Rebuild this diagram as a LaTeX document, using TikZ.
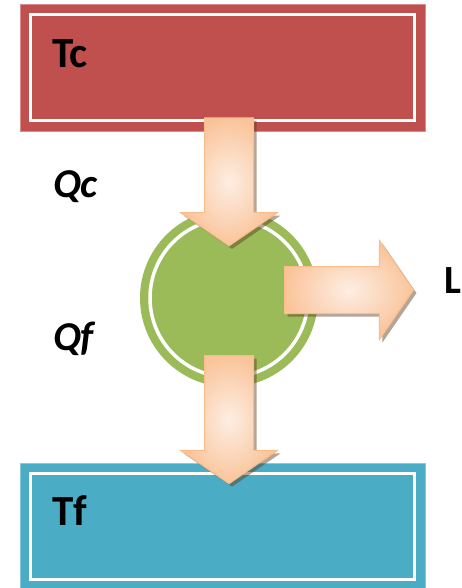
\documentclass[tikz,border=0pt]{standalone}
\usepackage{fontspec}
\setmainfont{Carlito}
\usetikzlibrary{shapes.arrows,shadows}
\definecolor{hotred}{HTML}{C0504D}
\definecolor{coldblue}{HTML}{4BACC6}
\definecolor{enginegreen}{HTML}{9BBB59}
\definecolor{peachlight}{HTML}{FDEEE3}
\definecolor{peachdark}{HTML}{FAC49A}
\definecolor{peachline}{HTML}{F9BD8C}
\begin{document}
\begin{tikzpicture}[x=1pt, y=-1pt,
		reservoir/.style={rectangle, fill=#1, draw=#1!65!white, line width=0.8pt, minimum width=405pt, minimum height=127pt, inner sep=0},
		frame/.style={draw=white, line width=3.5pt},
		flow/.style={single arrow, draw=peachline, line width=1pt, inner color=peachlight, outer color=peachdark,
			inner xsep=0, inner ysep=24pt, single arrow head extend=24pt, single arrow tip angle=111, minimum height=128pt,
			drop shadow={shadow xshift=3pt, shadow yshift=-3pt, opacity=0.45, fill=black!55!brown}},
		temp/.style={font=\bfseries\fontsize{43}{45}\selectfont, inner sep=0, anchor=base west},
		heat/.style={font=\bfseries\itshape\fontsize{41}{43}\selectfont, inner sep=0, anchor=base west}
	]
	\useasboundingbox (0,0) rectangle (462,588);
	% Sorgenti
	\node[reservoir=hotred] (hot) at (222.5,67.5) {};
	\draw[frame] ([shift={(11,11)}]hot.north west) rectangle ([shift={(-11,-11)}]hot.south east);
	\node[reservoir=coldblue] (cold) at (222.5,526.5) {};
	\draw[frame] ([shift={(11,11)}]cold.north west) rectangle ([shift={(-11,-11)}]cold.south east);

	% Macchina
	\node[circle, fill=enginegreen, minimum size=178pt, inner sep=0] (engine) at (229,298) {};
	\draw[frame] (engine.center) circle (79pt);

	% Frecce
	\node[flow, rotate=-90, anchor=tail] (qcflow) at ([yshift=14pt]hot.south -| engine) {};
	\node[flow, rotate=-90, anchor=tail] (qfflow) at ([yshift=32pt]engine.south) {};
	\node[flow, inner ysep=23pt, single arrow head extend=26pt, minimum height=129pt, anchor=tail] (work) at ([shift={(55pt,8pt)}]engine.center) {};

	% Testi
	\node[temp] (tc) at (52,68) {Tc};
	\node[temp] (tf) at (52,525) {Tf};
	\node[heat] (qc) at (53,197) {Qc};
	\node[heat] (qf) at (53,350) {Qf};
	\node[heat, font=\bfseries\fontsize{40}{42}\selectfont] (l) at (444,293) {L};
\end{tikzpicture}
\end{document}
